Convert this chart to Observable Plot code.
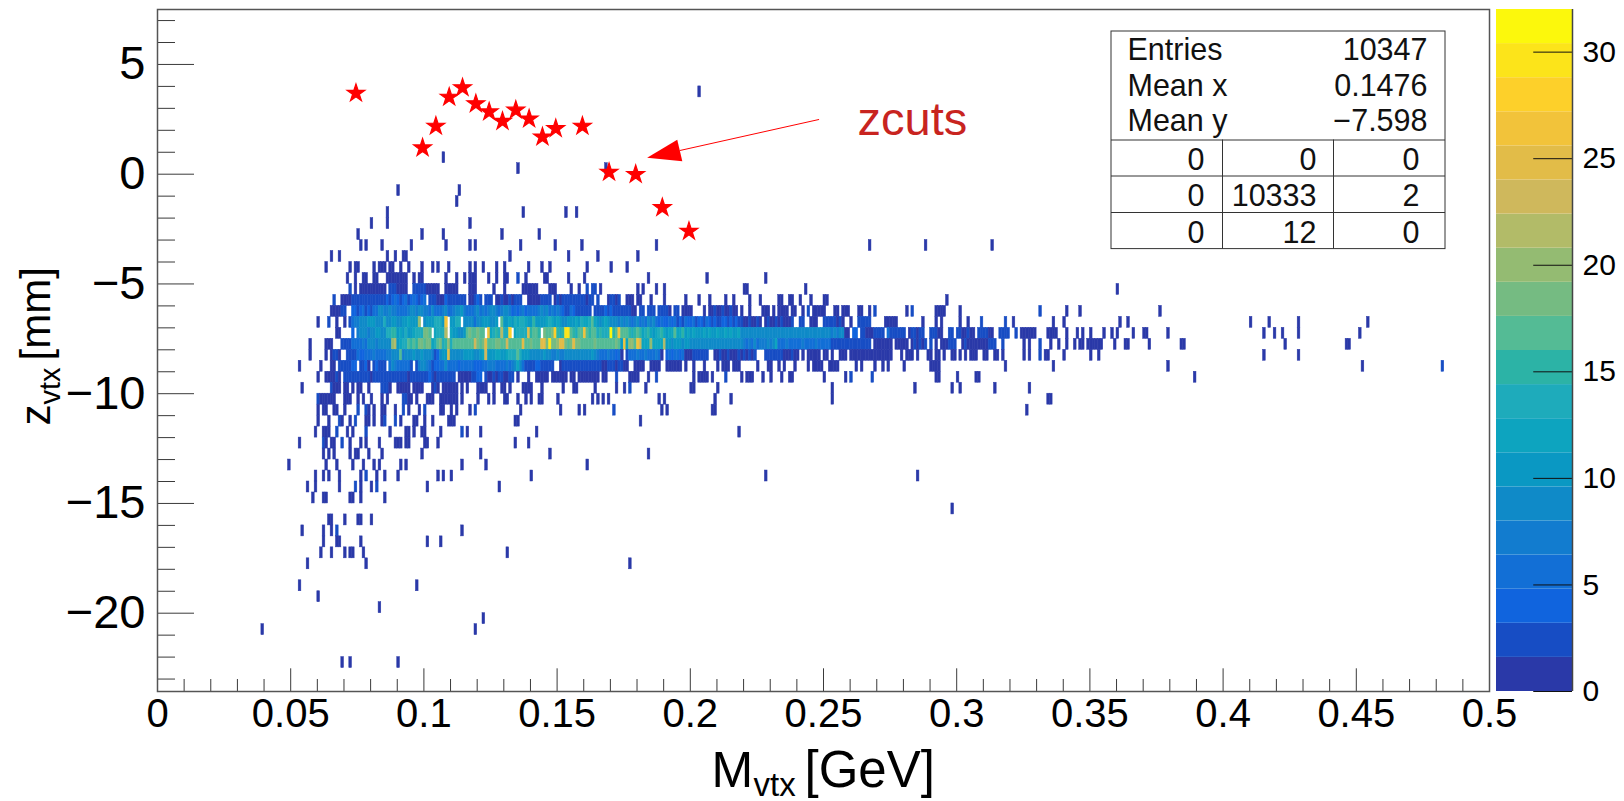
<!DOCTYPE html>
<html><head><meta charset="utf-8">
<style>
html,body{margin:0;padding:0;background:#fff;overflow:hidden}
#c{position:relative;width:1624px;height:801px}
#c svg{position:absolute;left:0;top:0;background:transparent}
</style>
<script src="https://cdn.jsdelivr.net/npm/d3@7"></script>
<script src="https://cdn.jsdelivr.net/npm/@observablehq/plot@0.6"></script>
</head><body><div id="c"></div>
<script>
// Histogram contents. Each row is one 0.5 mm z band (lower edge in zRowLow).
// Tokens: "col" = one entry in column col (0.001 GeV wide); "col:xyz" = counts (base 36) from col on.
const zRowLow = [3.5,0.5,0,-1,-1.5,-2,-2.5,-3,-3.5,-4,-4.5,-5,-5.5,-6,-6.5,-7,-7.5,-8,-8.5,-9,-9.5,-10,-10.5,-11,-11.5,-12,-12.5,-13,-13.5,-14,-14.5,-15,-15.5,-16,-16.5,-17,-17.5,-18,-19,-19.5,-20,-20.5,-21,-22.5];
const rowCells = [
"203",
"107",
"135 168",
"90 113",
"112",
"86 137 153 157",
"80 86 117",
"75 99 107 129 143",
"76 78 84 95 108 117 119 136 149 159 187 267 288 313",
"65 68 86 89 92:11 132 154 165 180",
"63 72 74:11 81 83:111 87:11 91 94 99 103 105 109 117 119 122 127 130 139 144 147 161 170 176",
"71 74 77:11 81:11 86:11111111 96 98:11 108 112 115 117:111 124 127 130:11 135:2 138 145:11 154 160 184 206 228",
"72:2 74 76:1111111111 87:2221111 96:2222211111 108:11111 117:111 126 130 137:111111 147:111 155 158 161:2 163:22 166 180 182 187 190 220:11 243 360",
"66:2 69:1111 73:222222 79:332233 85:3434543453454345 102:233 105:111 108:43332333 117:11 119:243 123:222 127:11 129:21121 134:222 139:11111 144:2332 149:121222 155:3332221 162:22 165:2 169:12212 176:111 180:11 185 190 198 203 207 213 216 222 226 233:11 237:11 241 245 250:11 296",
"65:1111 69:22 73:4434534366 83:8877877656 93:57887887768 104:6567865798 114:a765578676 124:7887678874 134:5457455657 144:878676754 153:2354332333 164:3323424332 174:322211 181:22 184:222 188:22221 194:22 197:1111 205 207:11211211211 219 222 227:111 231 233:1111 238:11 242 244:2 246:11111 254:11 257:111 263:11 267 269:2 281 283:2 292:1111 301 331:2 341 346 376",
"60 64:2 67 70 72:3 73:677 76:889aaa999 85:d 86:99aa89bacbba 98:k 100:9abb 104:eeda 108:q 110:abdd 115:9898 119:5 120:99aaa99b 129:h 130:bbcb 134:ecddcba 141:f 142:abbacdcbc 151:a99baacbdccd 163:g 164:ca9aca9897 174:8787678676878 187:54544545343544534435 207:4343344343433 220:1121121 228:12112121112 241:22 245:11 247 250:33333 255:121 260 263:22222 273:11111 287 292 294 301 304 309:2 318:2 321 336 340 361 364 410 417 428 454",
"67:11 73:4 75:7988 79:788aa99 86:eeff 90:bcbdabc 97:eed 100:iig 104:cdee 108:m 110:cab99a 116:hihhihg 124:q 125:cefe 129:m 130:ee 132:s 134:cdeed 139:o 140:fghf 145:jhgi 149:s 150:fef 153:uu 155:hfehg 160:r 161:gfgg 165:dfeee 170:w 171:fh 173:q 174:hhgfefgf 182:cdfcbcdfcbccgccf 198:bcbcbabcbcbbcabcbcabc 219:98989988 227:898998889988 239:8988988998988 252:87878 257:9 258:11 261:44 264:22 266:111 269:3333 274:6 275:333333 282:122122 290:33311 297:22 300:2211211 308:3333 312:11 316:2222 322:2 324:111111 334:1111 341 345 347 350 355 358 360 366 370:11 379 415 419 422 428 451",
"57 63:111 69:2333 73:566576 79:889789898 88:kl 90:bcdegfhf 98:jihij 103:ceg 106:i 107:efkeg 112:ghhghhh 119:ni 121:hjo 124:hghiihhn 132:ghhhh 137:o 138:hhihhg 144:pp 146:i 147:t 148:ijk 151:pp 153:ihi 156:p 157:i 158:ih 160:hghhihh 167:hhhghjh 174:a 175:r 176:ckk 179:h 180:r 181:n 182:ccc 185:k 186:cccc 190:m 191:aa9aba9ab 200:98989989889889899899 220:767686777878 232:c 233:56576565675656756565 253:233232323323232 269:1111111 277:11111 283:121212 290:2 292 294:111222 302:1211111 309:111 312:222 317:2 325 327 331:2 335 338 341 344 346:11 349:111111 359 363:11 372 384:11 423 446:11",
"57 63 65:1221 71:2223 75:5445667655 85:677889a 91:h 92:7889a98a9987 104:34 106:9a 108:a 109:p 110:98989aaba98 121:ac 123:n 124:abbccbbcde 134:dgd 137:baa99889a 146:887787788 155:98998888a87 166:65675645 174 176:3 177:566756765676 189 191:4545545 198:111 201:232323 209:11211211 217:12121212 228:2323232111211 242 244:11111 250:11 253 256:111 260:1111111 267:111111111 279 281:111 285 289 290 292 293 295 298:11 301 303 305:111 310:11 314:11 317 325 327 331:2 333:11 340 350 353 415 428",
"53 61 65 66 68:33222 73:44 76:2241 81:34332 87:5876 91:55553 97:278876 103:34455 108:9 109:55654565 117:6544 121:45677766567 132:678c85 138:22334432322 151:1223332232332322 167:1122212 174:211 179:1111 185:1111 191:111111 198 201 205 210 212:111 216:111 225 229:11 233 235 239 244 246:1111 252:1111 262 264 269 272 274 280 290:11 292:11 318 336 379 452 482:2",
"60 63:11 65:1121 70:333 73:22322321 81:223322 87:2323323 94:1233223342 104:12233322 113:1111 117:123 120:44 123:211212211 132:33 135 139 142:11111 148:111111 155 156 158:11 160:111111 167:11 172:3 177:1111 184 187:2 201 203:1111 208 213:2 219 221:11 223 227 230 234 237:11 250 258 260:2 268:2 292 293 300 307:11 389",
"54 65:2111 70 71 73 75:11 79 84:2321 90:11111 96:111 99 103:121 107:111111 114 116 120:1111 126 129 130 132 137:1111 144 152 156 157 164 172 175 177:2 183 200:11 210 253 284 298 301 314 327",
"60:2111111 70:111 75 77 80 84 86 92:2211 97 101:111 106:1111111 114 120 124 126 130:11 135 138 140 143:11 150 163 165 167 169 188 190 209 215 253 334 335",
"60 62:11 66:11 70 75:2 78:21 81 84:11 89 92:2 94 98 100:2 106:11 110 112 117 119:2 136 151 158 160 171:2 189 191 208:11 326",
"60 64 68:21 72 74:2 78:11 81 84:12 89:2 91 96:11 100 103 109:11 111 134:11 181",
"59 62:11 64 67:2 71 73 78:2 87 93:11 96 99:11 106 114:2 116 121 142 218",
"53 62:21 65:11 69:2 72 76 78 83 89:111 93:11 100:11 105 134 139",
"62 64 66 72 74:11 79 84 99 121 147 184",
"49 63 67 73 77 81 83 91 93 114 123 161",
"59 62 64 68 76 78:2 82 85 90 105 107 110 140 228 285",
"56 59 68 74:2 76 80 82:2 101 128",
"58 62:11 72:11 76 85",
"298",
"64:11 70 75:11 80",
"54 62 65 67:2 114",
"62 67:11 76 101 106",
"61 65 70 72:11 77 131",
"56 78 177",
"53 97",
"60",
"83",
"122",
"39 119",
"69 72 90"
];
// zcuts markers
const cutMass = [0.0745,0.0995,0.1045,0.1095,0.1145,0.1195,0.1245,0.1295,0.1345,0.1395,0.1445,0.1495,0.1595,0.1695,0.1795,0.1895,0.1995];
const cutZ = [3.69,1.2,2.19,3.51,3.94,3.21,2.84,2.41,2.92,2.52,1.7,2.08,2.19,0.09,-0.01,-1.52,-2.6];
// colour palette, bottom to top
const paletteColors = ["#2a39a8","#174dc4","#1064de","#126fd6","#127ccf","#0f8ac8","#0a98c3","#0da4bf","#1eabbb","#2cb3a6","#54bb95","#75bb82","#94bb72","#b2bb68","#cfb85c","#e2bc48","#f2c33a","#fdd02a","#fce41a","#fcf80c"];
const paletteStep = 1.6;
const xLabels = [0,0.05,0.1,0.15,0.2,0.25,0.3,0.35,0.4,0.45,0.5];
const yLabels = [5,0,-5,-10,-15,-20];
const colorLabels = [0,5,10,15,20,25,30];
const statNames = ["Entries","Mean x","Mean y"];
const statValues = ["10347","0.1476","\u22127.598"];
const statGrid = [["0","0","0"],["0","10333","2"],["0","12","0"]];

const binW = 0.001, binH = 0.5;
const cells = [];
zRowLow.forEach((z,i)=>{
  const m = new Map();
  rowCells[i].split(" ").forEach(tok=>{
    const [c,v] = tok.split(":");
    const s = v===undefined ? "1" : v;
    [...s].forEach((ch,k)=>m.set(+c+k, parseInt(ch,36)));
  });
  m.forEach((v,c)=>cells.push({c,z,v}));
});

// page geometry of the pad
const L=157,R=1489,T=9,B=691, x0=157, xk=2664, y0=173.7, yk=21.95;
const mx = px => (px-x0)/xk, mz = py => (y0-py)/yk;
const zTop = mz(T), zBot = mz(B);
const thresholds = d3.range(1,paletteColors.length).map(i=>i*paletteStep);
const font = "'Liberation Sans', Arial, sans-serif";
const minorX = d3.range(0,501,10).map(d=>d/1000).filter(d=>Math.round(d*1000)%50!==0);
const minorY = d3.range(-23,8).filter(d=>d%5!==0);
const tickC = "#3a3a3a";

// box lines
const boxX = [1111,1222,1333,1445], boxY=[31,139.5,175.5,212,248.6];
const statBase = [59,95,130];
const gridText = statGrid.flatMap((r,i)=>r.map((t,j)=>({x:mx([1204,1316,1419][j]),y:mz([169,205.5,242][i]),t})));

const main = Plot.plot({
  width:1624,height:801,marginLeft:L,marginRight:1624-R,marginTop:T,marginBottom:801-B,
  style:{fontFamily:font,background:"transparent",color:"#000"},
  x:{domain:[0,0.5],axis:null},
  y:{domain:[zBot,zTop],axis:null},
  color:{type:"threshold",domain:thresholds,range:paletteColors},
  marks:[
    Plot.rect(cells,{x1:d=>d.c*binW,x2:d=>(d.c+1)*binW,y1:d=>d.z,y2:d=>d.z+binH,fill:d=>d.v,stroke:d=>d.v,strokeWidth:0.5,inset:0}),
    Plot.ruleX(minorX,{y1:zBot,y2:zBot+12/yk,stroke:tickC,strokeWidth:1}),
    Plot.ruleX(xLabels,{y1:zBot,y2:zBot+22.7/yk,stroke:tickC,strokeWidth:1}),
    Plot.ruleY(minorY,{x1:0,x2:18/xk,stroke:tickC,strokeWidth:1}),
    Plot.ruleY(yLabels,{x1:0,x2:37/xk,stroke:tickC,strokeWidth:1}),
    Plot.frame({stroke:"#555",strokeWidth:1.5}),
    Plot.axisX(xLabels,{anchor:"bottom",tickSize:0,tickPadding:7,fontSize:40,tickFormat:d=>String(d),lineAnchor:"top"}),
    Plot.axisY(yLabels,{anchor:"left",tickSize:0,tickPadding:12,fontSize:47,tickFormat:d=>String(d).replace("-","\u2212")}),
    // axis titles
    Plot.text(["M"],{x:mx(711),y:mz(786),text:d=>d,textAnchor:"start",lineAnchor:"bottom",fontSize:50}),
    Plot.text(["vtx"],{x:mx(753),y:mz(795),text:d=>d,textAnchor:"start",lineAnchor:"bottom",fontSize:33}),
    Plot.text(["[GeV]"],{x:mx(804),y:mz(786),text:d=>d,textAnchor:"start",lineAnchor:"bottom",fontSize:51}),
    Plot.text(["z"],{x:mx(49),y:mz(425),text:d=>d,textAnchor:"start",lineAnchor:"bottom",rotate:-90,fontSize:42}),
    Plot.text(["vtx"],{x:mx(59),y:mz(404),text:d=>d,textAnchor:"start",lineAnchor:"bottom",rotate:-90,fontSize:29}),
    Plot.text(["[mm]"],{x:mx(49),y:mz(360),text:d=>d,textAnchor:"start",lineAnchor:"bottom",rotate:-90,fontSize:42}),
    // zcuts
    Plot.dot(cutMass.map((m,i)=>({m,z:cutZ[i]})),{x:"m",y:"z",symbol:"star",r:5.6,fill:"#ff0000",stroke:"#ff0000",strokeWidth:1.2}),
    Plot.line([{m:0.2482,z:2.49},{m:0.1961,z:1.08}],{x:"m",y:"z",stroke:"#ff0000",strokeWidth:1}),
    Plot.line([{m:0.1838,z:0.749},{m:0.1951,z:1.57},{m:0.197,z:0.59},{m:0.1838,z:0.749}],{x:"m",y:"z",fill:"#ff0000",stroke:"none"}),
    Plot.text(["zcuts"],{x:mx(857),y:mz(134),text:d=>d,textAnchor:"start",lineAnchor:"bottom",fontSize:47,fill:"#c8241f"}),
    // statistics box
    Plot.rect([0],{x1:mx(boxX[0]),x2:mx(boxX[3]),y1:mz(boxY[0]),y2:mz(boxY[4]),fill:"#fff",stroke:"#333",strokeWidth:1}),
    Plot.ruleY(boxY.slice(1,4).map(mz),{x1:mx(boxX[0]),x2:mx(boxX[3]),stroke:"#333",strokeWidth:1}),
    Plot.ruleX(boxX.slice(1,3).map(mx),{y1:mz(boxY[1]),y2:mz(boxY[4]),stroke:"#333",strokeWidth:1}),
    Plot.text(statNames,{x:mx(1127),y:(d,i)=>mz(statBase[i]),text:d=>d,textAnchor:"start",lineAnchor:"bottom",fontSize:30.5,fill:"#111"}),
    Plot.text(statValues,{x:mx(1427),y:(d,i)=>mz(statBase[i]),text:d=>d,textAnchor:"end",lineAnchor:"bottom",fontSize:30.5,fill:"#111"}),
    Plot.text(gridText,{x:"x",y:"y",text:"t",textAnchor:"end",lineAnchor:"bottom",fontSize:30.5,fill:"#111"})
  ]
});

const bands = paletteColors.map((c,i)=>({lo:i*paletteStep,hi:(i+1)*paletteStep,c}));
const key = Plot.plot({
  width:1624,height:801,marginLeft:1496,marginRight:1624-1572,marginTop:T,marginBottom:801-B,
  style:{fontFamily:font,background:"transparent",color:"#000"},
  x:{domain:[0,1],axis:null},
  y:{domain:[0,32],axis:null},
  marks:[
    Plot.rect(bands,{x1:0,x2:1,y1:"lo",y2:"hi",fill:"c",inset:0}),
    Plot.ruleY(colorLabels,{x1:0.49,x2:1,stroke:"#111",strokeWidth:1}),
    Plot.ruleX([1],{y1:0,y2:32,stroke:"#444",strokeWidth:1.5}),
    Plot.axisY(colorLabels,{anchor:"right",tickSize:0,tickPadding:10,fontSize:30,tickFormat:d=>String(d)})
  ]
});
const c=document.getElementById("c");
c.appendChild(main);c.appendChild(key);
</script></body></html>
